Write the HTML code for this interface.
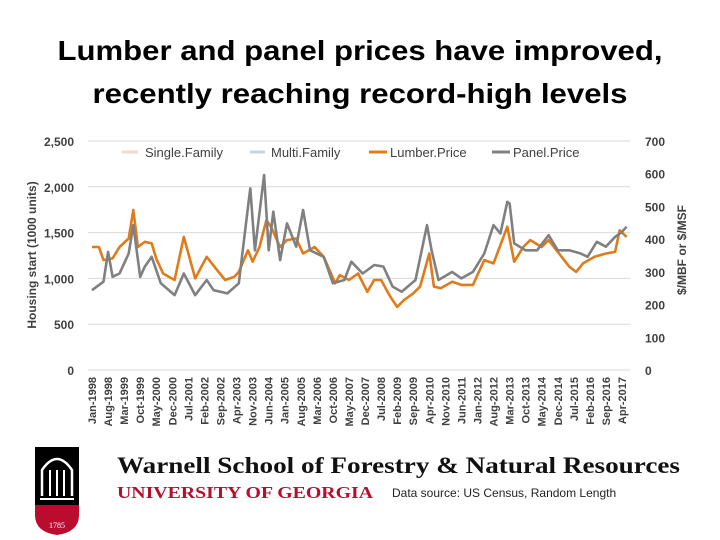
<!DOCTYPE html>
<html><head><meta charset="utf-8"><style>
body{margin:0;background:#fff;width:720px;height:540px;overflow:hidden}
svg{display:block}
</style></head><body>
<svg id="c" width="720" height="540" font-family="Liberation Sans, sans-serif">
<text x="360" y="60" text-anchor="middle" font-size="28" font-weight="bold" textLength="605" lengthAdjust="spacingAndGlyphs">Lumber and panel prices have improved,</text>
<text x="360" y="103" text-anchor="middle" font-size="28" font-weight="bold" textLength="535" lengthAdjust="spacingAndGlyphs">recently reaching record-high levels</text>
<g id="grid"></g><g id="ticks"></g><g id="series"></g>
<g font-size="13" fill="#404040">
<g><line x1="122" y1="152" x2="138" y2="152" stroke="#f4d9c4" stroke-width="3"/><text x="145" y="157">Single.Family</text></g>
<g><line x1="250" y1="152" x2="265" y2="152" stroke="#c6d4e2" stroke-width="3"/><text x="271" y="157">Multi.Family</text></g>
<g><line x1="369" y1="152" x2="387" y2="152" stroke="#e07b1a" stroke-width="3"/><text x="390" y="157">Lumber.Price</text></g>
<g><line x1="492" y1="152" x2="510" y2="152" stroke="#808080" stroke-width="3"/><text x="513" y="157">Panel.Price</text></g>
</g>
<text transform="translate(36,255) rotate(-90)" text-anchor="middle" font-size="12" font-weight="bold" fill="#404040">Housing start (1000 units)</text>
<text transform="translate(686,250) rotate(-90)" text-anchor="middle" font-size="12" font-weight="bold" fill="#404040">$/MBF or $/MSF</text>
<g>
<rect x="35" y="447" width="44" height="60" fill="#000"/>
<path d="M35 505 H79 V515 Q79 532 57 535 Q35 532 35 515Z" fill="#ba0c2f"/>
<path d="M42 496 V470 Q57 448 72 470 V496" fill="none" stroke="#fff" stroke-width="2.5"/>
<line x1="50" y1="470" x2="50" y2="496" stroke="#fff" stroke-width="2"/><line x1="57" y1="470" x2="57" y2="496" stroke="#fff" stroke-width="2"/><line x1="64" y1="470" x2="64" y2="496" stroke="#fff" stroke-width="2"/>
<line x1="40" y1="499" x2="74" y2="499" stroke="#fff" stroke-width="2"/>
<text x="57" y="528" text-anchor="middle" font-size="8" fill="#fff" font-family="Liberation Serif, serif">1785</text>
</g>
<text x="117" y="473" font-family="Liberation Serif, serif" font-weight="bold" font-size="23" textLength="563" lengthAdjust="spacingAndGlyphs" fill="#111">Warnell School of Forestry &amp; Natural Resources</text>
<text x="117" y="498" font-family="Liberation Serif, serif" font-weight="bold" font-size="17" textLength="256" lengthAdjust="spacingAndGlyphs" fill="#ba0c2f">UNIVERSITY OF GEORGIA</text>
<text x="392" y="497" font-size="12" fill="#222">Data source: US Census, Random Length</text>
</svg>
<script>
const leftTicks=[0,500,1000,1500,2000,2500];
const leftTickLabels=["0","500","1,000","1,500","2,000","2,500"];
const rightTicks=[0,100,200,300,400,500,600,700];
const monthLabels=["Jan-1998","Aug-1998","Mar-1999","Oct-1999","May-2000","Dec-2000","Jul-2001","Feb-2002","Sep-2002","Apr-2003","Nov-2003","Jun-2004","Jan-2005","Aug-2005","Mar-2006","Oct-2006","May-2007","Dec-2007","Jul-2008","Feb-2009","Sep-2009","Apr-2010","Nov-2010","Jun-2011","Jan-2012","Aug-2012","Mar-2013","Oct-2013","May-2014","Dec-2014","Jul-2015","Feb-2016","Sep-2016","Apr-2017"];
const panelMonths=[0,5,7,9,12,16,18,21,23,26,30,36,40,45,50,53,59,64,68,69,71,75,77,79,82,85,89,92,95,101,105,110,113,118,123,127,131,135,141,146,148,151,157,161,166,171,175,178,181,182,184,189,194,199,203,208,213,216,220,224,228,231,233];
const panelPrice=[244,270,361,285,295,356,443,285,316,346,265,229,295,229,275,244,234,265,499,555,366,596,366,484,336,448,377,489,366,346,265,275,331,295,321,316,255,239,275,443,366,275,300,280,300,356,443,417,514,509,387,366,366,412,366,366,356,346,392,377,407,422,438];
const lumberMonths=[0,3,5,9,12,16,18,20,23,26,28,31,36,40,45,50,54,58,62,64,68,70,73,76,78,82,85,89,92,97,101,106,108,112,116,120,123,126,130,133,136,140,143,147,149,152,157,161,166,171,175,181,184,188,191,196,199,203,208,211,214,219,224,228,230,233];
const lumberPrice=[376,376,336,341,376,402,489,376,392,387,341,295,275,407,280,346,310,275,285,300,366,331,376,458,438,376,397,402,356,376,346,265,290,275,295,239,275,275,224,193,214,234,255,356,255,250,270,260,260,336,326,438,331,376,397,376,397,361,316,300,326,346,356,361,427,407];
const NS='http://www.w3.org/2000/svg';
const x0=92,pxPerMonth=530/231,yBase=370,plotH=229,xEnd=630;
const xS=m=>x0+m*pxPerMonth;
const yL=v=>yBase-v/2500*plotH;
const yR=v=>yBase-v/700*plotH;
function mk(t,a,p){const e=document.createElementNS(NS,t);for(const k in a)e.setAttribute(k,a[k]);p.appendChild(e);return e;}
const grid=document.getElementById('grid'),ticks=document.getElementById('ticks'),ser=document.getElementById('series');
leftTicks.forEach((v,i)=>{
  const g=mk('line',{x1:88,x2:xEnd,y1:yL(v),y2:yL(v),stroke:'#d9d9d9','stroke-width':1},grid);
  
  
  const t=mk('text',{x:74,y:yL(v)+5,'text-anchor':'end','font-size':12,'font-weight':'bold',fill:'#404040'},ticks);
  t.textContent=leftTickLabels[i];
  
  
});
rightTicks.forEach(v=>{
  const t=mk('text',{x:645,y:yR(v)+5,'font-size':12,'font-weight':'bold',fill:'#404040'},ticks);
  t.textContent=String(v);
  
  
});
monthLabels.forEach((s,i)=>{
  const x=xS(i*7)+4;
  const t=mk('text',{transform:`translate(${x},377) rotate(-90)`,'text-anchor':'end','font-size':11,'font-weight':'bold',fill:'#404040'},ticks);
  t.textContent=s;
  
  
});
function line(ms,vs,color,name){
  const d=ms.map((m,i)=>(i?'L':'M')+xS(m).toFixed(1)+' '+yR(vs[i]).toFixed(1)).join(' ');
  const p=mk('path',{d:d,fill:'none',stroke:color,'stroke-width':2.6,'stroke-linejoin':'round'},ser);
  
  
}
line(lumberMonths,lumberPrice,'#e07b1a','lumber-price-line');
line(panelMonths,panelPrice,'#808080','panel-price-line');
</script>
</body></html>
